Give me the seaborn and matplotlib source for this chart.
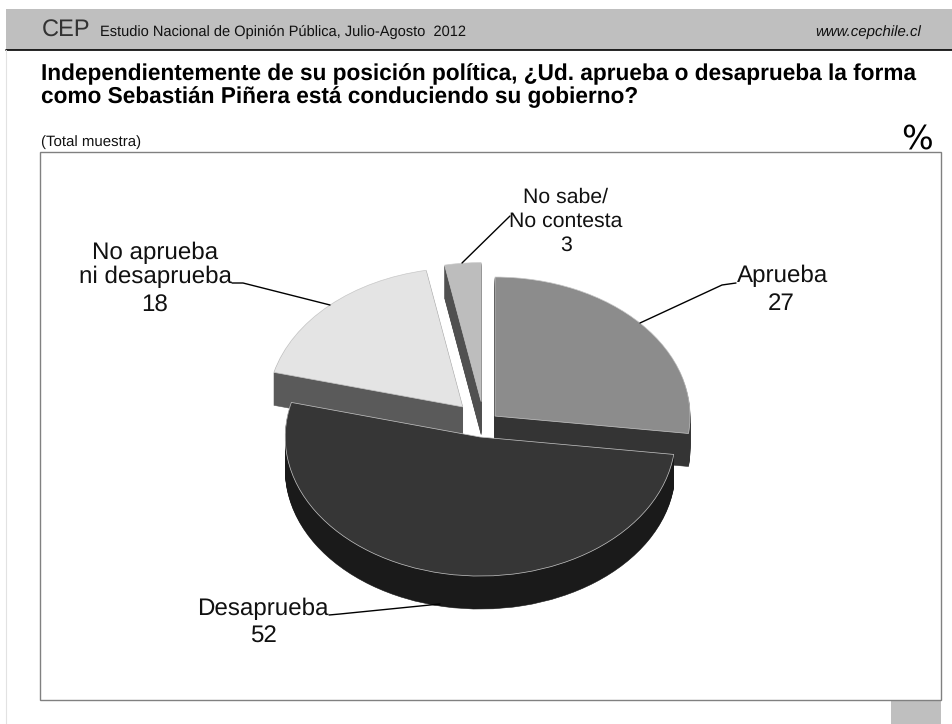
import matplotlib
matplotlib.use("Agg")
import matplotlib.pyplot as plt
from matplotlib.lines import Line2D
from matplotlib.patches import Rectangle
import seaborn as sns

categories = ["Aprueba", "Desaprueba", "No aprueba\nni desaprueba", "No sabe/\nNo contesta"]
values = [27, 52, 18, 3]
top_colors = sns.color_palette(["#8c8c8c", "#363636", "#e4e4e4", "#bdbdbd"])
side_colors = sns.color_palette(["#343434", "#1a1a1a", "#5a5a5a", "#505050"])
explode = [14.7, 20, 31, 30]
stack_order = [2, 3, 1, 0]  # painter's order per slice: Aprueba, Desaprueba, No aprueba, No sabe

W, H = 953, 724
sns.set_theme(style="white")
plt.rcParams["font.family"] = ["Liberation Sans", "DejaVu Sans"]
plt.rcParams["text.hinting"] = "no_hinting"
plt.rcParams["text.hinting_factor"] = 8
fig = plt.figure(figsize=(W / 100, H / 100), dpi=100, facecolor="white")

def fx(x): return x / W
def fy(y): return 1 - y / H

def rect(x0, y0, x1, y1, **kw):
    fig.add_artist(Rectangle((fx(x0), fy(y1)), (x1 - x0) / W, (y1 - y0) / H,
                             transform=fig.transFigure, **kw))

def line(xs, ys, color="black", lw=1.0):
    fig.add_artist(Line2D([fx(x) for x in xs], [fy(y) for y in ys],
                          transform=fig.transFigure, color=color, lw=lw, zorder=6))

def text(x, y, s, **kw):
    kw.setdefault("color", "#111111")
    kw.setdefault("va", "center")
    fig.text(fx(x), fy(y), s, zorder=7, **kw)

rect(6, 9, W, 49.5, facecolor="#bfbfbf", edgecolor="none")
line([6, W], [50, 50], color="black", lw=1.2)
line([6, 6], [50, H], color="#e2e2e2", lw=0.8)
rect(891, 700, 941, H, facecolor="#bfbfbf", edgecolor="none")
rect(40, 152, 941, 700, facecolor="white", edgecolor="#808080", lw=1.0, zorder=1)

text(42, 31, "CEP", fontsize=17, color="#333333")
text(100, 32, "Estudio Nacional de Opinión Pública, Julio-Agosto  2012", fontsize=10.55)
text(921, 32, "www.cepchile.cl", fontsize=10.85, style="italic", ha="right")
text(41, 74, "Independientemente de su posición política, ¿Ud. aprueba o desaprueba la forma",
     fontsize=16.3, weight="bold", color="black")
text(41, 97, "como Sebastián Piñera está conduciendo su gobierno?",
     fontsize=16.3, weight="bold", color="black")
text(41, 142, "(Total muestra)", fontsize=10.8)
text(917, 139, "%", fontsize=24, ha="center", color="black", family="DejaVu Sans")

# Pie axes: full figure, y data stretched so the circle draws as a tilted ellipse
tilt = 0.713
ax = fig.add_axes([0, 0, 1, 1], zorder=3)
ax.patch.set_alpha(0)
cx, cy_px, radius, depth = 484, 423, 195, 33
cy = (H - cy_px) / tilt

for layer in range(depth, -1, -1):
    colors = top_colors if layer == 0 else side_colors
    wedges, _ = ax.pie(values, explode=explode, colors=colors, radius=radius,
                       center=(cx, cy - layer / tilt), startangle=90, counterclock=False,
                       normalize=True, frame=True,
                       wedgeprops=dict(linewidth=0.5 if layer == 0 else 0.4,
                                       edgecolor="#c8c8c8" if layer == 0 else None))
    for i, w in enumerate(wedges):
        w.set_zorder(stack_order[i] * 100 + depth - layer)
        if layer:
            w.set_edgecolor(side_colors[i])

ax.set_aspect("auto")
ax.set_xlim(0, W)
ax.set_ylim(0, H / tilt)
ax.axis("off")

# Leader lines and labels
line([640, 722, 736], [323, 285, 283])
line([462, 510], [263, 216])
line([330, 243, 232], [305, 283, 283])
line([440, 340, 329], [604, 614, 615])

lab = dict(fontsize=17.4, ha="center", linespacing=1.12)
text(783, 276, categories[0], **lab)
text(781, 304, str(values[0]), **lab)
small = dict(lab, fontsize=15.3, linespacing=1.28)
text(566, 209, categories[3], **small)
text(566, 245, str(values[3]), **small)
text(155, 265, categories[2], **lab)
text(155, 306, str(values[2]), **lab)
text(263, 609, categories[1], **lab)
text(263, 637, str(values[1]), **lab)

fig.savefig("out.png", dpi=100)
